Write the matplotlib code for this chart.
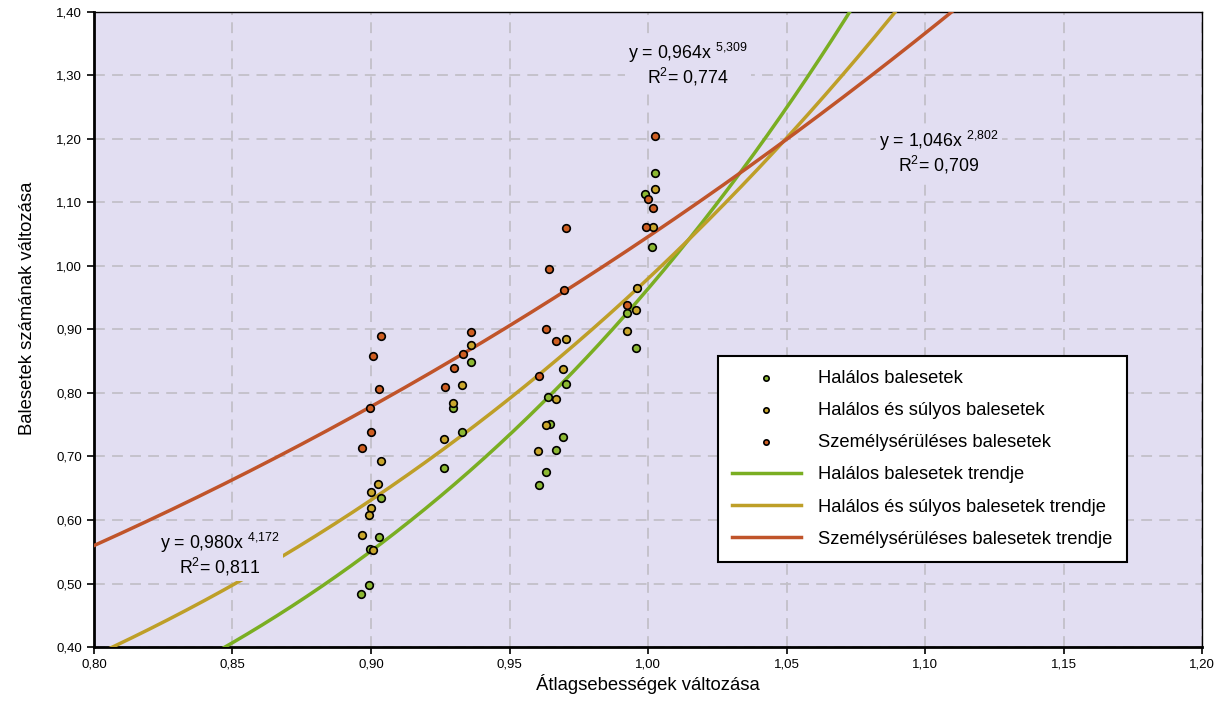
import numpy as np
import matplotlib.pyplot as plt
from matplotlib.ticker import FuncFormatter, MultipleLocator

plt.rcParams['font.family'] = ['Liberation Sans', 'DejaVu Sans']
plt.rcParams['mathtext.default'] = 'regular'

# Halálos balesetek
hal_x = [0.9037, 0.9029, 0.8996, 0.8994, 0.8965,
         0.9362, 0.9296, 0.9327, 0.9264,
         0.9705, 0.9638, 0.9645, 0.9694, 0.9668, 0.9632, 0.9605,
         1.0025, 0.9990, 1.0016, 0.9925, 0.9957]
hal_y = [0.634, 0.573, 0.555, 0.498, 0.483,
         0.849, 0.777, 0.738, 0.682,
         0.814, 0.794, 0.751, 0.731, 0.711, 0.675, 0.655,
         1.147, 1.114, 1.030, 0.926, 0.871]

# Halálos és súlyos balesetek
hs_x = [0.9036, 0.9025, 0.9000, 0.9000, 0.8994, 0.8967, 0.9007,
        0.9360, 0.9327, 0.9296, 0.9265,
        0.9703, 0.9693, 0.9668, 0.9630, 0.9603,
        1.0026, 1.0019, 0.9959, 0.9955, 0.9924]
hs_y = [0.693, 0.656, 0.644, 0.619, 0.608, 0.576, 0.553,
        0.875, 0.812, 0.785, 0.728,
        0.885, 0.837, 0.790, 0.750, 0.709,
        1.121, 1.061, 0.966, 0.930, 0.898]

# Személysérüléses balesetek
sz_x = [0.9037, 0.9006, 0.9029, 0.8996, 0.9001, 0.8967,
        0.9362, 0.9331, 0.9299, 0.9267,
        0.9705, 0.9641, 0.9697, 0.9633, 0.9669, 0.9606,
        1.0026, 1.0001, 1.0017, 0.9993, 0.9925]
sz_y = [0.890, 0.859, 0.806, 0.777, 0.738, 0.714,
        0.896, 0.862, 0.839, 0.810,
        1.060, 0.995, 0.962, 0.901, 0.882, 0.826,
        1.204, 1.106, 1.091, 1.061, 0.939]

# trend egyenletek: y = a * x^b
trend_a = [0.964, 0.980, 1.046]
trend_b = [5.309, 4.172, 2.802]

c_green = '#7AAE22'
c_gold = '#BE9F28'
c_red = '#C0542A'
m_green = '#8CB833'
m_gold = '#C9A62C'
m_red = '#CE5E22'

fig = plt.figure(figsize=(12.16, 7.01), dpi=100)
ax = fig.add_axes([0.0773, 0.077, 0.9112, 0.906])
ax.set_facecolor('#E2DEF2')

xs = np.linspace(0.80, 1.20, 600)
labels_tr = ['Halálos balesetek trendje', 'Halálos és súlyos balesetek trendje',
             'Személysérüléses balesetek trendje']
for a, b, c, lab in zip(trend_a, trend_b, [c_green, c_gold, c_red], labels_tr):
    ax.plot(xs, a * xs ** b, color=c, lw=2.5, label=lab, zorder=3)

ax.scatter(hal_x, hal_y, s=30, color=m_green, edgecolor='black', lw=1.2, zorder=4,
           label='Halálos balesetek')
ax.scatter(hs_x, hs_y, s=30, color=m_gold, edgecolor='black', lw=1.2, zorder=4,
           label='Halálos és súlyos balesetek')
ax.scatter(sz_x, sz_y, s=30, color=m_red, edgecolor='black', lw=1.2, zorder=4,
           label='Személysérüléses balesetek')

bg = dict(facecolor='#E2DEF2', edgecolor='none', pad=2)
ax.text(1.0145, 1.318, 'y = 0,964x $^{5{,}309}$\nR$^2$= 0,774', ha='center', va='center',
        fontsize=12.8, linespacing=1.05, bbox=bg, zorder=5)
ax.text(1.1050, 1.178, 'y = 1,046x $^{2{,}802}$\nR$^2$= 0,709', ha='center', va='center',
        fontsize=12.8, linespacing=1.05, bbox=bg, zorder=5)
ax.text(0.8455, 0.545, 'y = 0,980x $^{4{,}172}$\nR$^2$= 0,811', ha='center', va='center',
        fontsize=12.8, linespacing=1.05, bbox=bg, zorder=5)

ax.set_xlim(0.80, 1.20)
ax.set_ylim(0.40, 1.40)
ax.xaxis.set_major_locator(MultipleLocator(0.05))
ax.yaxis.set_major_locator(MultipleLocator(0.10))
ax.xaxis.set_major_formatter(FuncFormatter(lambda v, p: f'{v:.2f}'.replace('.', ',')))
ax.yaxis.set_major_formatter(FuncFormatter(lambda v, p: f'{v:.2f}'.replace('.', ',')))
ax.tick_params(labelsize=9.5, length=5, width=1.2, color='black')
ax.grid(True, color='#C2C0C8', ls=(0, (6, 4)), lw=1.3, zorder=1)
ax.set_axisbelow(True)
for s in ax.spines.values():
    s.set_color('black')
    s.set_linewidth(1.0)
ax.spines['left'].set_linewidth(2)
ax.spines['bottom'].set_linewidth(2)

ax.set_xlabel('Átlagsebességek változása', fontsize=13.3, labelpad=2)
ax.set_ylabel('Balesetek számának változása', fontsize=13.3)
ax.yaxis.set_label_coords(-0.052, 0.534)

h, l = ax.get_legend_handles_labels()
order = [3, 4, 5, 0, 1, 2]
leg = ax.legend([h[i] for i in order], [l[i] for i in order], loc='lower left',
                bbox_to_anchor=(0.563, 0.134), borderaxespad=0, fontsize=13.2,
                frameon=True, fancybox=False, edgecolor='black', framealpha=1,
                handlelength=3.75, labelspacing=0.83, handletextpad=0.95,
                borderpad=0.77, markerscale=0.7)
leg.get_frame().set_linewidth(1.5)

fig.savefig('out.png', dpi=100, facecolor='white')
